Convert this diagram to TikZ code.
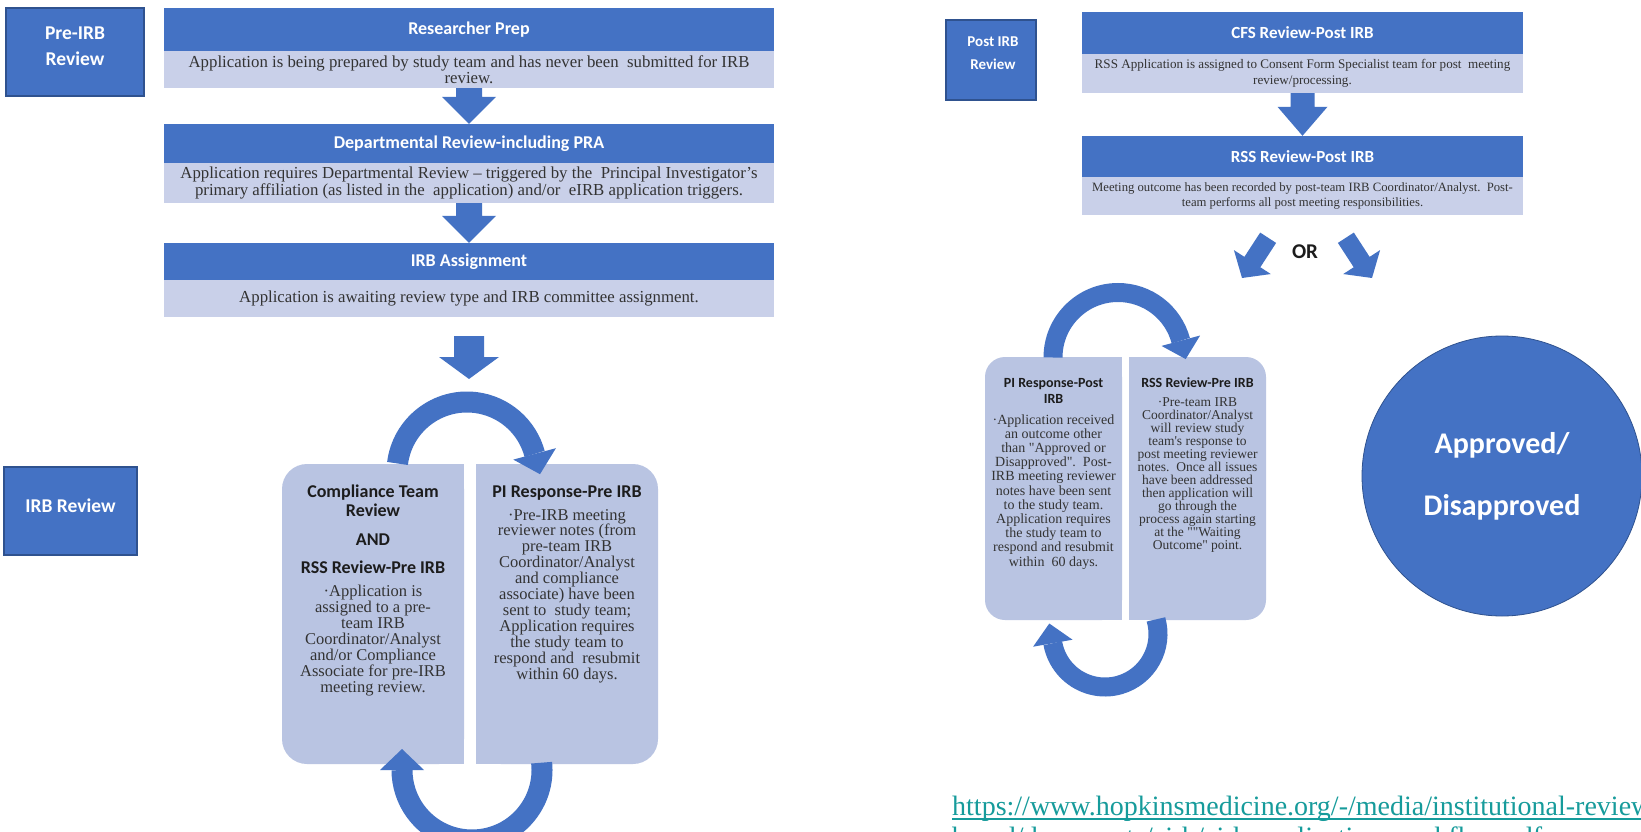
\documentclass[tikz,border=0pt]{standalone}
\usepackage{fontspec}
\setmainfont{Liberation Serif}[Ligatures=TeXOff]
\newfontfamily\carlito{Carlito}
\usetikzlibrary{calc}
\definecolor{hblue}{HTML}{4472C4}
\definecolor{bord}{HTML}{2F528F}
\definecolor{bandc}{HTML}{C9D0E9}
\definecolor{boxc}{HTML}{B9C4E2}
\definecolor{txt}{HTML}{333333}
\definecolor{ttlc}{HTML}{1C1C1C}
\definecolor{urlc}{HTML}{169B9B}
\newcommand{\ttlf}[2]{\carlito\bfseries\fontsize{#1}{#2}\selectfont}
\newcommand{\bodyf}[2]{\fontsize{#1}{#2}\selectfont}
\newcommand{\downblock}[5]{%
 \fill[hblue] let \p1=(#1), \p2=(#2) in
 (\x1-#3pt,\y1) -- (\x1+#3pt,\y1) -- (\x1+#3pt,\y2+#5pt) -- (\x1+#4pt,\y2+#5pt)
 -- (\x1,\y2) -- (\x1-#4pt,\y2+#5pt) -- (\x1-#3pt,\y2+#5pt) -- cycle;}
\newcommand{\orblock}[2]{%
 \begin{scope}[shift={(#1)}, rotate=#2]
 \fill[hblue] (0,0) -- (-19,-22) -- (-19,-9.5) -- (-48,-9.5) -- (-48,9.5) -- (-19,9.5) -- (-19,22) -- cycle;
 \end{scope}}
\begin{document}
\begin{tikzpicture}[x=1pt,y=-1pt,
  hdr/.style={fill=hblue, inner sep=0, text=white},
  band/.style={fill=bandc, inner sep=0, align=center, text=txt},
  lbl/.style={fill=hblue, draw=bord, line width=1.2, inner sep=0},
  lbltxt/.style={text=white, align=center, anchor=base, inner sep=0},
  lbox/.style={fill=boxc, inner sep=0},
  ttl/.style={text=ttlc, align=center, anchor=base, inner sep=0},
  body/.style={text=txt, align=center, anchor=base, inner sep=0},
  arcband/.style={draw=hblue},
]
\fill[white] (0,0) rectangle (1641,832);
\useasboundingbox (0,0) rectangle (1641,832);

% ---------- left labels (base anchor = baseline of last line)
\node[lbl, minimum width=138, minimum height=88] (pre) at (75,52) {};
\node[lbltxt, font=\ttlf{19.5}{26}] (pret) at (75,66) {Pre-IRB\\Review};
\node[lbl, minimum width=133, minimum height=88] (irbr) at (70.5,511) {};
\node[lbltxt, font=\ttlf{19.5}{26}] (irbrt) at (70.5,512) {IRB Review};

% ---------- left column
\node[hdr, minimum width=610, minimum height=43, font=\ttlf{18}{20}] (h1) at (469,29.5) {Researcher Prep};
\node[band, minimum width=610, minimum height=37, font=\bodyf{16.8}{16}] (b1) at (469,69.5)
 {Application is being prepared by study team and has never been\ \ submitted for IRB\\review.};
\node[hdr, minimum width=610, minimum height=39, font=\ttlf{18}{20}] (h2) at (469,143.5) {Departmental Review-including PRA};
\node[band, minimum width=610, minimum height=40, font=\bodyf{16.8}{16.5}] (b2) at (469,183)
 {Application requires Departmental Review – triggered by the\ \ Principal Investigator’s\\primary affiliation (as listed in the\ \ application) and/or\ \ eIRB application triggers.};
\node[hdr, minimum width=610, minimum height=37, font=\ttlf{18}{20}] (h3) at (469,261.5) {IRB Assignment};
\node[band, minimum width=610, minimum height=37, font=\bodyf{16.8}{16}] (b3) at (469,298.5)
 {Application is awaiting review type and IRB committee assignment.};

\downblock{b1.south}{h2.north}{13}{27}{27}
\downblock{b2.south}{h3.north}{13}{27}{27}
\coordinate (a3s) at (469,336);
\coordinate (a3e) at (469,379);
\downblock{a3s}{a3e}{15}{30}{22}

% left loop boxes
\node[lbox, rounded corners=25, minimum width=182, minimum height=300] (lb1) at (373,614) {};
\fill[boxc] ([xshift=-30]lb1.north east) rectangle (lb1.south east);
\node[lbox, rounded corners=25, minimum width=182, minimum height=300] (rb1) at (567,614) {};
\fill[boxc] (rb1.north west) rectangle ([xshift=30]rb1.south west);

\node[ttl, font=\ttlf{18}{19.5}] (lt1) at (373,516.5) {Compliance Team\\Review};
\node[ttl, font=\ttlf{18}{19.5}] (lt2) at (373,545) {AND};
\node[ttl, font=\ttlf{18}{19.5}] (lt3) at (373,573) {RSS Review-Pre IRB};
\node[body, font=\bodyf{16.5}{16}] (lt4) at (373,692)
 {·Application is\\assigned to a pre-\\team IRB\\Coordinator/Analyst\\and/or Compliance\\Associate for pre-IRB\\meeting review.};
\node[ttl, font=\ttlf{18}{19.5}] (rt1) at (567,497) {PI Response-Pre IRB};
\node[body, font=\bodyf{16.5}{15.9}] (rt2) at (567,679)
 {·Pre-IRB meeting\\reviewer notes (from\\pre-team IRB\\Coordinator/Analyst\\and compliance\\associate) have been\\sent to\ \ study team;\\Application requires\\the study team to\\respond and\ \ resubmit\\within 60 days.};

% left loop arcs
\coordinate (c1) at (467,472);
\draw[arcband, line width=21] ($(c1)+(187:70)$) arc[start angle=187, end angle=345, radius=70];
\fill[hblue] (555.9,448.2) -- (540.0,474.2) -- (513.3,459.6) -- cycle;
\coordinate (c2) at (472,770);
\draw[arcband, line width=21] ($(c2)+(-6:70)$) arc[start angle=-6, end angle=180, radius=70];
\fill[hblue] (380,770) -- (402,749) -- (424,770) -- cycle;

% ---------- right column
\node[lbl, minimum width=90, minimum height=80] (post) at (991,60) {};
\node[lbltxt, font=\ttlf{15}{23}] (postt) at (993,70) {Post IRB\\Review};

\node[hdr, minimum width=441, minimum height=42, font=\ttlf{17}{19}] (ch) at (1302.5,33) {CFS Review-Post IRB};
\node[band, minimum width=441, minimum height=39, font=\bodyf{13.1}{16}] (cb) at (1302.5,73.5)
 {RSS Application is assigned to Consent Form Specialist team for post\ \ meeting\\review/processing.};
\node[hdr, minimum width=441, minimum height=41, font=\ttlf{17}{19}] (rh) at (1302.5,156.5) {RSS Review-Post IRB};
\node[band, minimum width=441, minimum height=38, font=\bodyf{12.7}{15}] (rb) at (1302.5,196)
 {Meeting outcome has been recorded by post-team IRB Coordinator/Analyst.\ \ Post-\\team performs all post meeting responsibilities.};
\downblock{cb.south}{rh.north}{12}{25}{29}

% OR arrows
\coordinate (orl) at (1242,278);
\coordinate (orr) at (1372,278);
\orblock{orl}{237}
\orblock{orr}{303}
\node[ttl, anchor=center, font=\ttlf{21}{22}] (or) at (1305,252) {OR};

% right loop boxes
\node[lbox, rounded corners=20, minimum width=137, minimum height=263] (lb2) at (1053.5,488.5) {};
\fill[boxc] ([xshift=-25]lb2.north east) rectangle (lb2.south east);
\node[lbox, rounded corners=20, minimum width=137, minimum height=263] (rb2) at (1197.5,488.5) {};
\fill[boxc] (rb2.north west) rectangle ([xshift=25]rb2.south west);

\node[ttl, font=\ttlf{14}{16.7}] (pt1) at (1053.5,403.7) {PI Response-Post\\IRB};
\node[body, font=\bodyf{14}{14.2}] (pt2) at (1053.5,566)
 {·Application received\\an outcome other\\than "Approved or\\Disapproved".\ \ Post-\\IRB meeting reviewer\\notes have been sent\\to the study team.\\Application requires\\the study team to\\respond and resubmit\\within\ \ 60 days.};
\node[ttl, font=\ttlf{14}{16.7}] (qt1) at (1197.5,387) {RSS Review-Pre IRB};
\node[body, font=\bodyf{13.5}{13}] (qt2) at (1197.5,549)
 {·Pre-team IRB\\Coordinator/Analyst\\will review study\\team's response to\\post meeting reviewer\\notes.\ \ Once all issues\\have been addressed\\then application will\\go through the\\process again starting\\at the ""Waiting\\Outcome" point.};

\coordinate (c3) at (1118,357.5);
\draw[arcband, line width=19] ($(c3)+(180:65)$) arc[start angle=180, end angle=345, radius=65];
\fill[hblue] (1200.1,335.5) -- (1185.7,359.1) -- (1161.5,345.9) -- cycle;
\coordinate (c4) at (1105,634);
\draw[arcband, line width=19] ($(c4)+(-16:53)$) arc[start angle=-16, end angle=170, radius=53];
\fill[hblue] (1033.1,646.7) -- (1049.3,623.5) -- (1072.5,639.7) -- cycle;

% outcome circle
\node[circle, fill=hblue, draw=bord, line width=0.8, minimum size=280, inner sep=0,
  text=white, align=center, font=\ttlf{30}{62}] (ad) at (1502,476) {Approved/\\Disapproved};

% URL
\node[anchor=base west, inner sep=0, text=urlc, font=\bodyf{28}{30}] (link) at (952,815)
 {https://www.hopkinsmedicine.org/-/media/institutional-review-board};
\node[anchor=base west, inner sep=0, text=urlc, font=\bodyf{28}{30}] (link2) at (952,846)
 {board/documents/eirb/eirb-application-workflow.pdf};
\draw[urlc, line width=1.4] ([yshift=-4]link.base west) -- ([yshift=-4]link.base east);
\end{tikzpicture}
\end{document}
